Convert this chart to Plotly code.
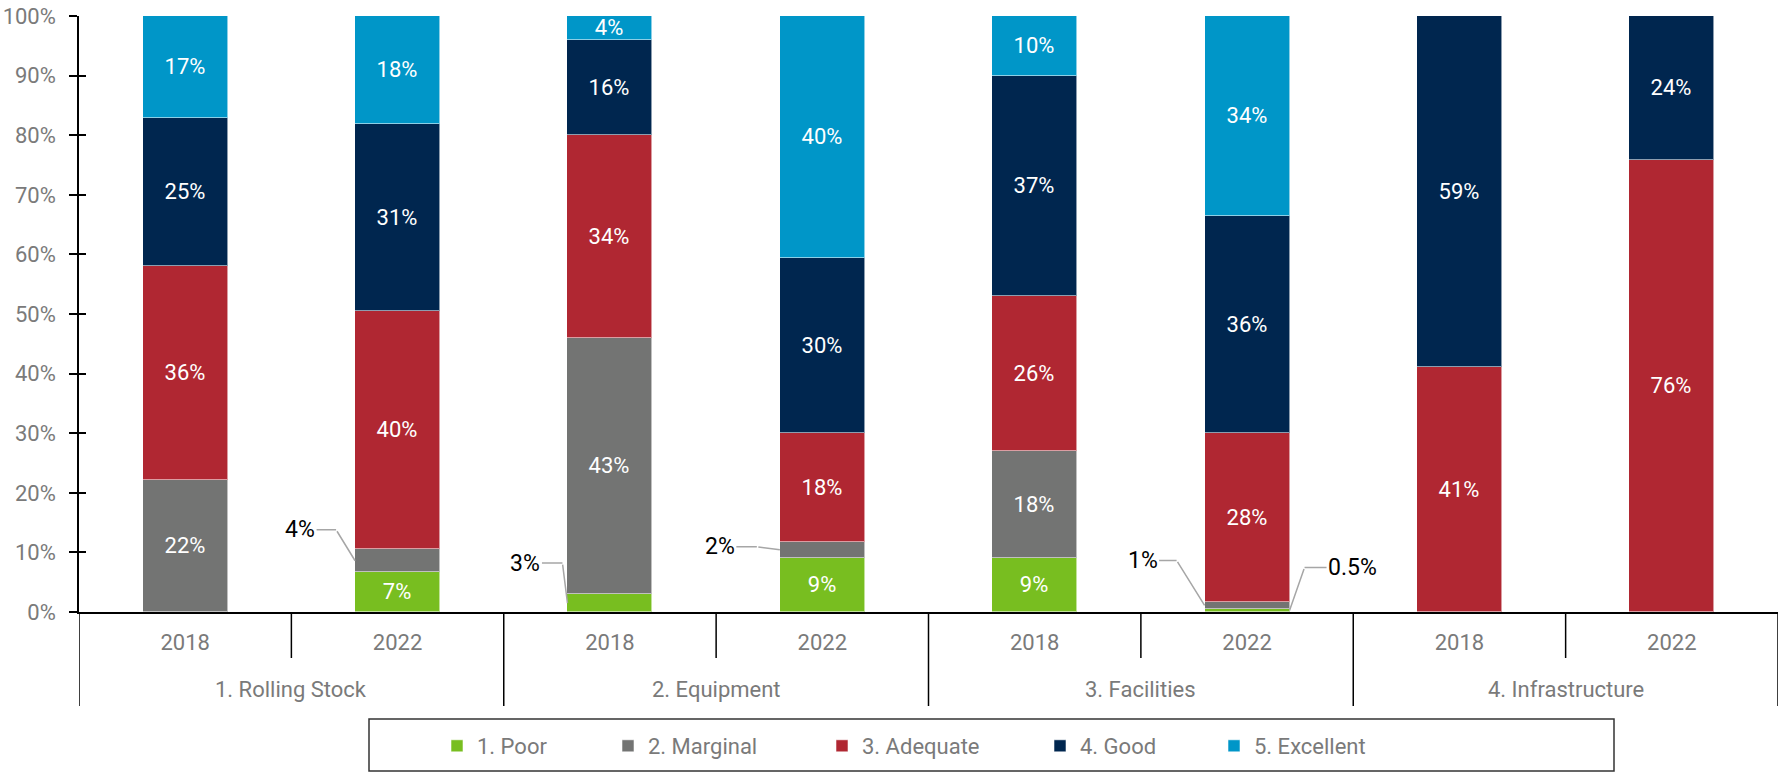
import plotly.graph_objects as go

# ---------------- data ----------------
groups = ["1. Rolling Stock", "2. Equipment", "3. Facilities", "4. Infrastructure"]
years = ["2018", "2022"]
bar_years = ["2018", "2022", "2018", "2022", "2018", "2022", "2018", "2022"]
y_ticks = [0, 10, 20, 30, 40, 50, 60, 70, 80, 90, 100]
y_tick_text = ["0%", "10%", "20%", "30%", "40%", "50%", "60%", "70%", "80%", "90%", "100%"]

series_names = ["1. Poor", "2. Marginal", "3. Adequate", "4. Good", "5. Excellent"]
poor = [0, 6.7, 3.0, 9.1, 9.1, 0.5, 0, 0]
marginal = [22.1, 3.8, 42.9, 2.7, 17.9, 1.2, 0, 0]
adequate = [36.0, 40.0, 34.1, 18.3, 26.0, 28.4, 41.1, 75.8]
good = [24.8, 31.4, 16.0, 29.3, 37.0, 36.4, 58.9, 24.2]
excellent = [17.1, 18.1, 4.0, 40.6, 10.0, 33.5, 0, 0]

poor_text = ["", "7%", "", "9%", "9%", "", "", ""]
marginal_text = ["22%", "", "43%", "", "18%", "", "", ""]
adequate_text = ["36%", "40%", "34%", "18%", "26%", "28%", "41%", "76%"]
good_text = ["25%", "31%", "16%", "30%", "37%", "36%", "59%", "24%"]
excellent_text = ["17%", "18%", "4%", "40%", "10%", "34%", "", ""]

# callouts: (bar index, series index, label, side)
callouts = [
    (1, 1, "4%", "left"),
    (2, 0, "3%", "left"),
    (3, 1, "2%", "left"),
    (5, 1, "1%", "left"),
    (5, 0, "0.5%", "right"),
]
# leader geometry in pixels (elbow dx, elbow dy, text offset from elbow)
leader_style = [
    (-19, -31, -36),
    (-5, -40, -37),
    (-23, -3, -37),
    (-28, -45, -34),
    (15, -43, 48),
]

colors = ["#78BE20", "#737473", "#B02732", "#00264F", "#0096C8"]
values = [poor, marginal, adequate, good, excellent]
texts = [poor_text, marginal_text, adequate_text, good_text, excellent_text]

FONT = "Roboto"
GRAY = "#7A7A7A"
FS = 22
W, H = 1780, 773
ML, MR, MT, MB = 79, 2, 16, 161
PW = W - ML - MR
PH = H - MT - MB
BAR_W = 0.4

positions = list(range(len(bar_years)))

fig = go.Figure()
legend_centers = [458, 629, 843, 1061, 1235]
legend_y = 746
for i, (name, col, vals, txt) in enumerate(zip(series_names, colors, values, texts)):
    lid = "legend" if i == 0 else f"legend{i+1}"
    fig.add_trace(go.Bar(
        x=positions, y=vals, name=name, width=BAR_W,
        marker=dict(color=col, line=dict(color="rgba(255,255,255,0.55)", width=1)),
        text=txt, textposition="inside", insidetextanchor="middle",
        textangle=0, constraintext="none",
        insidetextfont=dict(color="white", size=FS, family=FONT),
        legend=lid, hoverinfo="skip",
    ))
    fig.layout[lid] = dict(
        x=(legend_centers[i] - 21) / W, y=1 - legend_y / H,
        xref="container", yref="container",
        xanchor="left", yanchor="middle", orientation="h",
        font=dict(size=FS, color=GRAY, family=FONT),
        bgcolor="rgba(0,0,0,0)", borderwidth=0,
    )

# invisible trace for the inside tick marks axis
fig.add_trace(go.Scatter(x=[None], y=[None], yaxis="y2", showlegend=False, hoverinfo="skip"))

annotations = []
shapes = []

# callouts with elbow leader lines
for (bi, si, lab, side), (ex, ey, tx) in zip(callouts, leader_style):
    base = sum(values[k][bi] for k in range(si))
    ymid = base + values[si][bi] / 2
    xedge = bi - BAR_W / 2 if side == "left" else bi + BAR_W / 2
    annotations.append(dict(
        x=xedge, y=ymid, xref="x", yref="y", text="", showarrow=True,
        arrowhead=0, arrowwidth=1.5, arrowcolor="#A6A6A6", ax=ex, ay=ey, standoff=0,
    ))
    annotations.append(dict(
        x=xedge, y=ymid, xref="x", yref="y", text=lab, showarrow=True,
        arrowhead=0, arrowwidth=1.5, arrowcolor="#A6A6A6",
        xshift=ex, yshift=-ey, ax=tx, ay=0, standoff=0,
        font=dict(size=23, color="black", family=FONT),
    ))

# group labels
for gi, g in enumerate(groups):
    annotations.append(dict(
        x=gi * 2 + 0.5, y=-(689 - (MT + PH)) / PH, xref="x", yref="paper",
        text=g, showarrow=False, yanchor="middle",
        font=dict(size=FS, color=GRAY, family=FONT),
    ))

# divider lines below the axis
short_len = (658 - (MT + PH)) / PH
long_len = (706 - (MT + PH)) / PH
for gi in range(len(groups)):
    xd = gi * 2 + 0.5
    shapes.append(dict(type="line", xref="x", yref="paper", x0=xd, x1=xd, y0=0, y1=-short_len,
                       line=dict(color="black", width=1.5)))
for gi in range(len(groups) + 1):
    xd = gi * 2 - 0.5
    shapes.append(dict(type="line", xref="x", yref="paper", x0=xd, x1=xd, y0=0, y1=-long_len,
                       line=dict(color="black", width=1.5)))

# legend box
shapes.append(dict(type="rect", xref="paper", yref="paper",
                   x0=(369 - ML) / PW, x1=(1614 - ML) / PW,
                   y0=-(771 - (MT + PH)) / PH, y1=-(719 - (MT + PH)) / PH,
                   line=dict(color="#333333", width=1.5), fillcolor="rgba(0,0,0,0)", layer="below"))

fig.update_layout(
    width=W, height=H,
    margin=dict(l=ML, r=MR, t=MT, b=MB),
    barmode="stack", bargap=0,
    plot_bgcolor="white", paper_bgcolor="white",
    font=dict(family=FONT, size=FS, color=GRAY),
    xaxis=dict(
        range=[-0.5, len(bar_years) - 0.5], tickvals=positions, ticktext=bar_years,
        showgrid=False, zeroline=False, showline=True, linecolor="black", linewidth=1.5,
        ticks="", ticklabelstandoff=10, tickfont=dict(size=FS, color=GRAY, family=FONT),
        fixedrange=True,
    ),
    yaxis=dict(
        range=[0, 100], tickvals=y_ticks, ticktext=y_tick_text,
        showgrid=False, zeroline=False, showline=True, linecolor="black", linewidth=1.5,
        ticks="outside", ticklen=8, tickwidth=1.5, tickcolor="black",
        ticklabelstandoff=9, tickfont=dict(size=FS, color=GRAY, family=FONT),
    ),
    yaxis2=dict(
        range=[0, 100], tickvals=y_ticks, overlaying="y", side="left",
        showgrid=False, zeroline=False, showline=False, showticklabels=False,
        ticks="inside", ticklen=7, tickwidth=1.5, tickcolor="black",
    ),
    annotations=annotations,
    shapes=shapes,
)

fig.write_html("out.html")
